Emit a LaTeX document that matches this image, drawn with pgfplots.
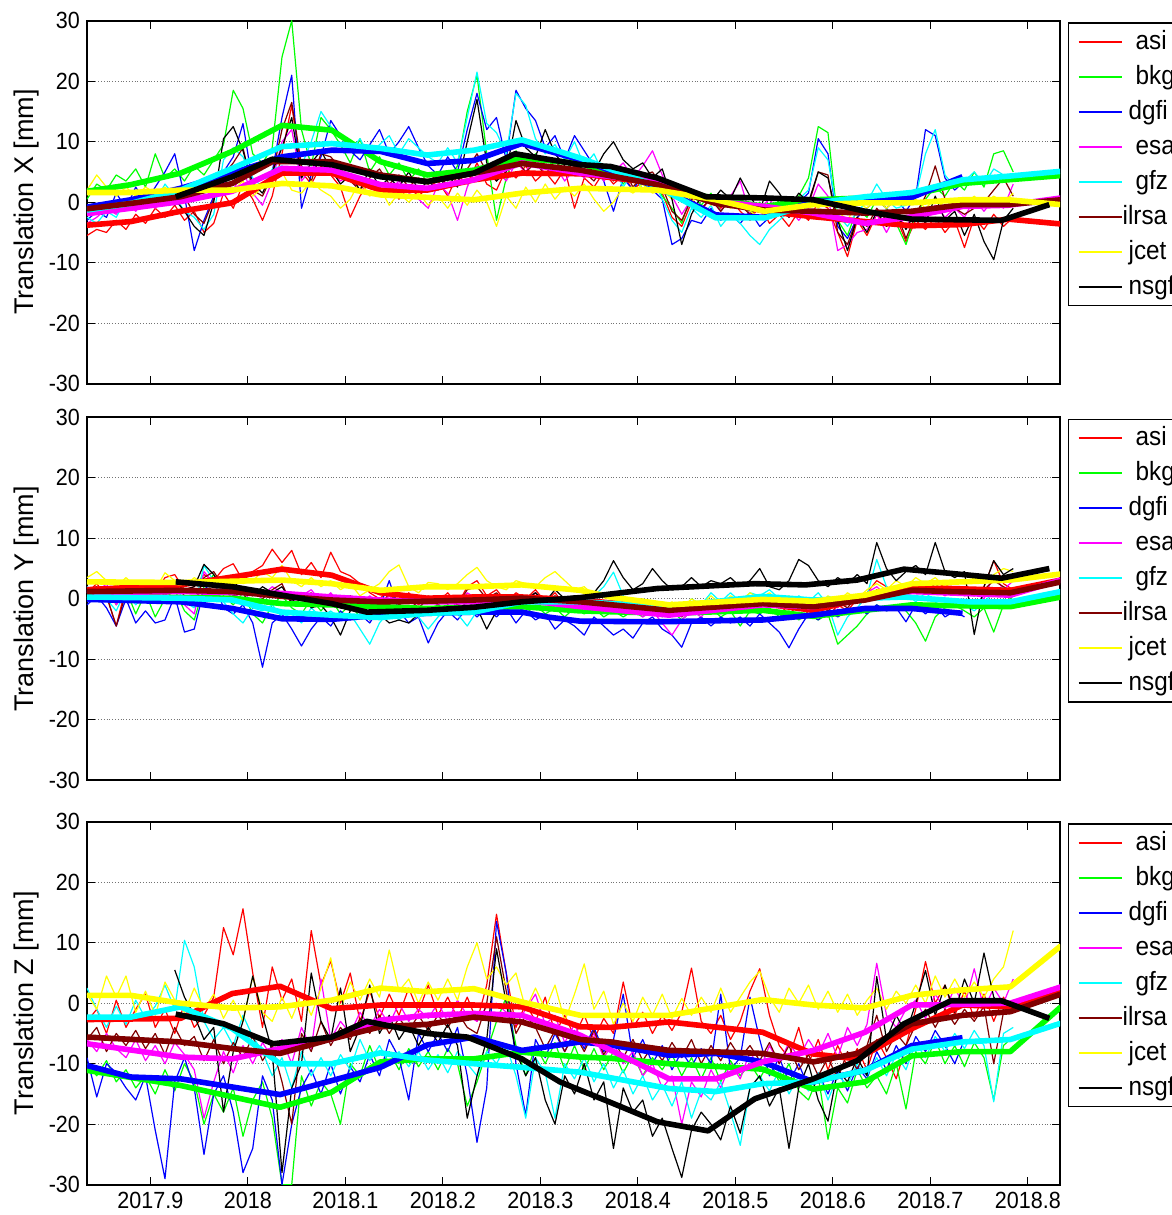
\documentclass[border=0pt]{standalone}
\usepackage{fontspec}
\setmainfont{Liberation Sans}[FakeStretch=0.92]
\newfontfamily\ylfont{Liberation Sans}
\usepackage{pgfplots}
\pgfplotsset{compat=1.18}
\usepackage{pgfplotstable}
\definecolor{mred}{rgb}{1,0,0}
\definecolor{mgrn}{rgb}{0,1,0}
\definecolor{mblu}{rgb}{0,0,1}
\definecolor{mmag}{rgb}{1,0,1}
\definecolor{mcya}{rgb}{0,1,1}
\definecolor{milr}{rgb}{0.5,0,0}
\definecolor{myel}{rgb}{1,1,0}
\definecolor{mblk}{rgb}{0,0,0}

\pgfplotstableread{
x asi bkg dgfi esa gfz ilrsa jcet nsgf
2017.835 -5.5 0.5 -3.0 -3.5 -2.5 -1.5 2.0 nan
2017.845 -4.5 3.0 -1.5 -2.5 -3.5 -2.0 4.5 nan
2017.855 -5.0 2.0 -2.5 -1.0 -1.5 -0.5 2.5 nan
2017.865 -3.0 4.5 1.5 -2.0 -2.5 -1.5 1.0 nan
2017.875 -4.5 3.5 -1.0 0.0 0.5 0.5 2.5 nan
2017.885 -2.0 5.5 2.5 -1.5 -1.0 -1.0 1.0 nan
2017.895 -3.5 2.5 0.0 0.5 1.5 1.5 2.5 nan
2017.905 -1.0 8.0 2.5 -1.0 0.0 -0.5 1.5 nan
2017.915 -2.5 4.0 5.0 1.0 3.0 1.5 2.5 nan
2017.925 -0.5 5.5 8.0 -0.5 1.0 -0.5 1.0 0.5
2017.935 -3.0 3.5 1.0 2.0 -1.5 1.0 2.5 -1.5
2017.945 -1.5 6.0 -8.0 0.5 -2.5 -2.0 1.5 -4.0
2017.955 -5.0 4.5 -3.0 2.5 -4.5 -3.5 3.0 -5.5
2017.965 -3.5 7.0 1.0 1.0 -2.0 0.5 1.5 0.0
2017.975 1.5 9.5 5.0 3.5 7.0 4.5 3.0 10.5
2017.985 -1.0 18.5 7.5 2.0 9.0 6.5 2.0 12.5
2017.995 3.0 15.5 13.0 5.0 7.5 9.0 3.5 8.5
2018.005 0.5 8.0 3.0 1.5 4.0 2.0 1.0 3.0
2018.015 -3.0 6.5 2.5 -0.5 2.5 1.0 2.5 1.5
2018.025 1.0 9.0 5.0 3.5 5.5 4.5 4.0 5.0
2018.035 8.0 24.0 14.0 10.0 6.0 12.0 5.0 9.0
2018.045 16.0 30.0 21.0 12.0 5.0 16.5 2.0 14.0
2018.055 5.0 12.0 -1.0 3.5 6.0 6.0 1.5 4.0
2018.065 3.0 6.0 4.5 5.5 10.0 3.5 3.5 6.5
2018.075 6.0 14.0 7.5 7.0 15.0 8.0 2.0 8.5
2018.085 4.5 12.0 13.5 5.0 12.5 7.5 1.0 5.5
2018.095 2.5 9.5 11.0 3.5 11.0 5.5 -1.0 3.0
2018.105 -2.5 6.5 8.5 4.5 8.5 3.5 0.5 4.5
2018.115 1.0 10.5 7.0 1.5 10.5 2.0 3.5 2.0
2018.125 3.5 5.0 9.5 3.5 7.5 4.0 1.0 5.5
2018.135 1.0 7.5 12.0 1.0 9.5 5.5 2.5 2.5
2018.145 3.0 4.5 8.0 2.0 11.0 3.0 -0.5 4.0
2018.155 0.5 6.5 10.0 3.5 8.0 4.5 1.5 2.5
2018.165 2.5 3.5 12.5 1.5 10.5 2.5 0.0 5.0
2018.175 1.0 5.5 9.0 0.5 9.0 4.0 1.5 2.0
2018.185 2.5 3.0 6.0 -1.0 7.5 3.0 -0.5 3.5
2018.195 3.5 5.0 4.5 3.0 6.5 5.0 1.0 2.0
2018.205 1.0 3.5 7.5 1.5 9.0 2.5 -1.0 4.5
2018.215 4.5 6.0 5.0 -3.0 6.5 3.5 1.5 2.5
2018.225 3.0 15.0 12.0 2.5 14.0 5.5 -0.5 10.0
2018.235 6.5 21.0 18.0 6.0 21.5 8.0 2.0 17.0
2018.245 3.0 8.0 12.0 4.0 13.0 5.0 0.0 6.5
2018.255 2.0 -3.0 14.0 5.5 11.5 3.5 -4.0 3.5
2018.265 5.5 4.0 7.0 3.5 8.0 6.5 1.0 5.0
2018.275 4.0 8.5 18.5 6.5 18.0 7.0 -1.0 13.5
2018.285 6.0 6.0 15.5 5.0 16.0 5.0 2.5 9.0
2018.295 3.5 8.0 13.5 7.5 10.5 6.5 0.0 7.5
2018.305 5.0 5.5 9.0 4.5 8.0 4.5 3.0 12.0
2018.315 3.0 7.0 11.0 6.0 9.5 7.0 0.5 8.0
2018.325 5.5 5.0 7.0 3.5 7.0 4.5 2.5 6.0
2018.335 -1.0 7.5 11.0 5.5 10.0 6.0 1.0 4.5
2018.345 4.0 5.0 8.5 4.0 6.0 5.0 3.0 6.5
2018.355 2.5 6.5 6.0 6.5 8.0 3.5 0.5 5.0
2018.365 5.0 4.0 3.5 3.5 4.5 6.0 -1.5 8.0
2018.375 3.0 5.5 -1.5 5.0 6.0 3.5 0.0 10.0
2018.385 4.5 3.0 4.0 6.5 2.5 5.5 2.5 7.0
2018.395 2.0 5.0 2.0 4.0 5.0 2.5 1.5 5.5
2018.405 3.5 2.0 4.5 6.0 2.0 4.5 3.0 6.5
2018.415 4.0 4.0 2.0 8.5 4.0 5.0 1.5 4.0
2018.425 1.5 1.0 0.5 4.5 0.5 2.5 2.0 5.5
2018.435 -2.5 -1.0 -7.0 1.0 -3.0 -1.5 0.5 0.5
2018.445 -4.0 -3.5 -6.0 -2.0 -5.0 -3.0 1.5 -7.0
2018.455 0.0 1.5 -3.0 0.5 -1.0 0.5 0.0 -2.0
2018.465 -1.5 -0.5 -3.5 -1.0 -2.5 -1.0 1.5 1.0
2018.475 1.0 1.5 -1.0 0.5 -0.5 0.5 -0.5 0.0
2018.485 -1.0 -1.5 -3.0 -1.5 -4.0 -1.5 1.0 2.0
2018.495 0.5 0.5 -2.0 1.0 -2.0 0.5 -1.0 0.5
2018.505 -1.5 1.0 -3.5 3.5 -3.5 -0.5 0.0 4.0
2018.515 -3.0 -2.0 -1.5 -2.0 -5.5 -2.0 -1.5 1.0
2018.525 -0.5 0.0 -4.0 -1.0 -7.0 -1.0 -2.5 -1.5
2018.535 -3.5 -2.5 -2.5 0.5 -4.5 -2.5 -1.0 3.5
2018.545 -2.0 0.5 -1.0 -2.0 -3.0 -0.5 -2.0 1.5
2018.555 -4.0 -1.5 -2.5 -1.0 -1.5 -2.5 0.0 -1.0
2018.565 -1.5 1.0 0.0 -3.0 0.5 -1.0 -1.5 1.5
2018.575 -3.0 4.0 1.5 -1.0 2.0 -0.5 0.5 0.0
2018.585 0.0 12.5 10.5 3.0 9.0 5.0 -1.0 5.0
2018.595 -1.0 11.5 8.0 1.0 7.0 4.5 0.5 4.0
2018.605 -5.0 -3.0 -4.0 -8.0 -2.0 -5.0 -1.5 -3.0
2018.615 -9.0 -5.5 -6.0 -7.0 -4.0 -7.0 -3.0 -8.0
2018.625 -3.0 -1.0 -2.5 -5.0 -1.5 -2.5 0.0 -2.5
2018.635 -5.5 -2.5 -1.0 -4.5 0.0 -4.0 -1.0 -5.0
2018.645 -2.0 0.5 0.5 -2.0 3.0 -1.0 0.5 -1.5
2018.655 -4.0 -1.0 -1.0 -5.0 0.5 -3.0 -1.0 -4.0
2018.665 -2.5 -3.5 0.5 -2.0 -1.0 -1.5 0.5 -2.0
2018.675 -6.5 -7.0 -1.5 -4.0 -0.5 -6.0 -0.5 -4.5
2018.685 -3.0 -2.0 1.0 -1.5 1.0 -2.0 0.5 -1.5
2018.695 -4.5 0.5 12.0 -3.0 8.0 1.0 -1.0 -3.5
2018.705 -2.5 2.5 11.0 -0.5 12.0 6.0 0.5 1.0
2018.715 -5.0 1.0 4.0 -2.5 4.5 0.5 -1.0 -3.0
2018.725 -3.0 3.5 2.0 -1.0 2.5 -1.0 0.5 -1.5
2018.735 -7.5 2.0 3.5 -2.5 3.5 -2.0 -0.5 -5.5
2018.745 -2.5 5.0 nan 0.5 5.0 -1.0 1.0 -2.0
2018.755 -4.5 2.5 nan -1.5 3.0 0.0 -0.5 -6.5
2018.765 -2.0 8.0 nan 0.5 5.5 2.0 1.0 -9.5
2018.775 -4.0 8.5 nan -1.0 4.5 4.0 0.0 -3.0
2018.785 -2.5 5.0 nan 3.0 4.0 1.0 1.5 -1.0
}\topthin

\pgfplotstableread{
x asi bkg dgfi esa gfz ilrsa jcet nsgf
2017.835 1.0 1.5 -1.0 2.0 2.0 1.5 3.5 nan
2017.845 2.5 0.5 0.5 1.0 1.0 2.0 4.5 nan
2017.855 0.5 2.0 -1.5 2.5 0.0 0.5 3.0 nan
2017.865 -4.5 -1.0 -4.5 -1.0 -2.0 -4.5 2.0 nan
2017.875 2.0 1.5 0.0 1.5 1.5 1.0 3.5 nan
2017.885 1.0 -2.5 -4.0 0.5 -1.0 1.5 2.0 nan
2017.895 2.5 1.0 -2.0 2.0 1.0 0.5 3.0 nan
2017.905 1.0 -3.0 -4.0 0.0 -0.5 2.0 1.5 nan
2017.915 3.5 0.0 -3.5 1.5 1.0 0.5 4.3 nan
2017.925 4.0 1.5 0.5 3.0 2.5 2.5 3.0 2.5
2017.935 1.5 -2.0 -5.5 -1.0 -0.5 0.5 2.0 1.5
2017.945 2.0 -3.5 -5.0 -2.5 -1.5 -1.0 3.5 2.0
2017.955 4.0 2.0 1.5 4.5 5.5 3.5 2.5 5.7
2017.965 3.0 4.0 3.0 2.5 3.0 4.5 3.5 4.0
2017.975 5.0 0.5 -1.5 1.5 -0.5 2.0 2.0 1.5
2017.985 5.8 -1.0 -2.5 0.0 -2.5 0.5 3.5 3.0
2017.995 3.0 1.0 -1.0 1.5 -4.0 1.0 2.5 1.0
2018.005 4.5 -2.5 -4.0 -1.0 -1.5 -1.5 3.0 0.5
2018.015 5.5 -4.0 -11.3 0.5 -2.0 0.0 4.5 2.0
2018.025 8.2 -1.0 -4.0 2.0 -1.0 1.5 3.5 1.0
2018.035 6.0 0.5 -2.5 1.0 -3.0 2.5 5.5 2.0
2018.045 8.0 -1.5 -5.0 -0.5 -2.5 -1.0 3.0 -0.5
2018.055 4.0 -2.5 -7.8 0.5 -4.0 0.0 2.0 1.0
2018.065 6.0 0.0 -5.0 1.5 -1.5 1.0 3.5 -1.5
2018.075 3.5 -2.0 -3.0 -0.5 -3.0 -1.0 2.0 -1.0
2018.085 7.7 0.0 -4.5 1.0 -2.0 0.5 3.0 -3.0
2018.095 4.5 -2.5 -2.0 -1.0 -3.5 -1.5 1.5 -6.0
2018.105 3.8 -1.0 -3.5 0.5 -2.5 0.5 2.5 -2.0
2018.115 2.5 -3.0 -2.5 -1.0 -5.0 -1.0 0.5 -1.0
2018.125 1.0 -2.0 -4.0 0.5 -7.5 0.0 1.5 -3.5
2018.135 0.0 -1.0 -1.5 -1.0 -4.0 -1.5 2.5 -2.5
2018.145 1.5 -2.5 3.0 0.5 -2.0 1.0 4.5 -4.0
2018.155 -0.5 -1.0 -2.0 -1.0 -3.5 -1.0 5.6 -3.5
2018.165 1.0 -2.0 -4.0 0.0 -2.0 0.0 2.0 -4.0
2018.175 -1.0 -3.0 -3.0 -1.5 -3.0 -1.5 1.0 -2.5
2018.185 0.5 -2.0 -7.3 0.0 -5.0 0.0 2.7 -1.5
2018.195 -0.5 -1.0 -4.0 -1.0 -3.0 -1.0 2.5 -2.5
2018.205 1.0 -2.0 -2.0 0.5 -1.5 0.5 1.5 -1.0
2018.215 -1.0 -1.0 -3.5 -1.5 -2.5 -1.0 2.5 -2.0
2018.225 2.0 -2.5 -1.5 1.0 -4.5 1.5 4.0 -0.5
2018.235 3.0 -1.0 -3.0 0.0 -2.0 2.0 5.2 -1.5
2018.245 0.5 -2.0 -1.5 -1.0 -1.0 0.0 3.0 -5.0
2018.255 1.5 -0.5 -3.0 0.5 -2.0 1.0 2.0 -2.0
2018.265 -0.5 -2.0 -1.5 -1.0 -0.5 -0.5 1.5 -1.0
2018.275 1.0 -1.0 -4.0 0.5 0.0 0.5 3.0 -0.5
2018.285 0.0 -2.5 -2.0 -0.5 -1.0 -0.5 2.5 0.0
2018.295 1.5 -1.0 -3.5 1.0 0.5 1.0 2.0 1.0
2018.305 -0.5 -2.5 -2.5 -1.0 -1.0 -0.5 3.5 -0.5
2018.315 1.0 -1.5 -5.0 0.0 0.5 0.5 4.5 1.5
2018.325 -1.0 -3.0 -3.5 -1.5 -1.5 -1.0 3.0 0.0
2018.335 0.5 -1.5 -4.5 0.0 0.0 0.0 1.5 0.5
2018.345 -1.5 -2.5 -6.0 -1.5 -1.0 -1.0 2.0 -0.5
2018.355 0.0 -1.5 -3.0 -0.5 0.5 0.0 0.5 1.0
2018.365 -2.0 -3.0 -4.5 -2.0 2.0 -1.5 1.0 3.0
2018.375 -0.5 -2.0 -6.0 -1.0 4.4 -0.5 -0.5 6.3
2018.385 -1.5 -3.0 -5.0 -2.5 0.5 -2.0 0.0 3.5
2018.395 -0.5 -2.0 -6.5 -1.5 -1.0 -1.0 -1.0 1.5
2018.405 -2.0 -3.0 -4.0 -3.0 -2.0 -2.5 0.0 2.5
2018.415 -1.0 -1.5 -3.0 -2.0 -0.5 -1.5 -1.0 5.0
2018.425 -2.5 -3.0 -5.0 -4.0 -2.0 -2.5 -2.0 3.0
2018.435 -1.5 -2.0 -6.0 -6.0 -1.0 -2.0 -0.5 1.5
2018.445 -2.0 -3.5 -8.0 -3.5 -2.0 -3.0 -1.5 2.0
2018.455 -1.0 -2.0 -4.0 -2.0 0.0 -1.5 0.0 3.5
2018.465 -2.0 -2.5 -3.0 -3.0 -1.0 -2.0 -1.0 2.0
2018.475 -0.5 -1.5 -4.5 -1.0 1.0 -1.0 0.5 3.0
2018.485 -1.5 -3.0 -3.0 -2.5 -0.5 -2.0 -1.0 2.5
2018.495 -0.5 -2.0 -4.0 -1.0 1.0 -1.0 0.5 3.5
2018.505 -2.0 -4.5 -3.0 -2.0 -0.5 -1.5 -0.5 2.0
2018.515 0.0 -2.0 -4.5 -0.5 1.0 -0.5 1.0 3.0
2018.525 -1.5 -2.5 -2.5 -1.5 0.5 -1.5 0.0 5.0
2018.535 0.5 -1.5 -4.0 -0.5 1.5 -0.5 1.0 2.0
2018.545 -1.0 -3.0 -5.5 -1.5 0.0 -1.0 -0.5 1.5
2018.555 -2.5 -2.0 -8.1 -1.0 -1.0 -1.5 0.5 3.0
2018.565 -1.0 -3.5 -5.0 -2.0 0.5 -1.0 -1.0 6.5
2018.575 -2.5 -2.5 -2.5 -1.0 -0.5 -2.0 0.0 5.5
2018.585 -1.5 -3.5 -3.5 -2.0 1.0 -1.0 -1.0 3.0
2018.595 -3.0 -2.5 -2.0 -1.0 -1.0 -2.0 0.5 2.0
2018.605 -1.0 -7.5 -3.0 -1.5 -6.0 -0.5 -0.5 3.5
2018.615 -2.0 -6.0 -2.0 0.5 -3.0 -1.5 1.0 2.5
2018.625 0.0 -4.5 -1.5 -0.5 -1.5 0.5 0.0 4.0
2018.635 1.0 -2.5 -2.5 1.0 0.5 0.0 1.5 2.5
2018.645 3.0 -1.0 -1.0 2.0 6.5 1.5 2.5 9.3
2018.655 2.0 -2.0 -2.0 0.5 2.0 1.0 1.5 5.0
2018.665 1.0 -1.0 -1.5 1.5 0.5 2.0 3.0 3.0
2018.675 2.5 -2.0 -3.8 0.5 1.0 1.0 2.0 4.5
2018.685 1.0 -4.0 -1.0 2.0 -0.5 2.0 3.5 5.5
2018.695 2.5 -7.0 -2.5 1.0 1.0 1.0 2.5 4.0
2018.705 1.5 -3.0 -1.0 1.5 -0.5 2.5 3.5 9.3
2018.715 2.5 -1.5 -3.0 0.5 -1.5 1.0 2.0 4.5
2018.725 1.0 -1.0 -2.0 1.5 0.0 2.0 3.0 3.5
2018.735 2.0 -2.0 -3.0 0.5 -1.0 1.0 2.5 4.5
2018.745 0.5 -3.0 nan 1.0 -2.0 0.5 3.5 -5.9
2018.755 2.0 -1.5 nan 0.0 -0.5 1.5 2.5 2.0
2018.765 6.3 -5.5 nan 4.0 1.0 3.0 4.0 6.3
2018.775 2.5 -1.0 nan 1.5 2.0 2.0 5.0 4.0
2018.785 1.5 0.5 nan 3.0 1.0 1.0 4.5 5.0
}\midthin

\pgfplotstableread{
x asi bkg dgfi esa gfz ilrsa jcet nsgf
2017.835 -3.0 -10.0 -9.0 -6.0 2.5 -6.0 1.5 nan
2017.845 -1.0 -12.0 -15.5 -8.0 -1.0 -4.0 -1.0 nan
2017.855 -5.0 -9.5 -10.0 -5.0 -4.0 -8.0 4.5 nan
2017.865 0.5 -13.0 -11.5 -7.5 -0.5 -5.0 1.0 nan
2017.875 -4.0 -11.0 -14.0 -9.0 -3.5 -7.0 4.5 nan
2017.885 -1.0 -14.0 -16.0 -6.0 0.5 -4.5 -1.5 nan
2017.895 1.5 -12.0 -12.0 -9.5 -2.5 -7.5 2.0 nan
2017.905 -4.0 -15.0 -21.0 -7.0 -0.5 -5.0 -2.0 nan
2017.915 -1.0 -11.0 -29.0 -10.0 3.0 -8.5 3.5 nan
2017.925 -5.0 -14.5 -13.0 -6.5 -1.0 -4.0 0.5 5.5
2017.935 0.0 -10.0 -9.0 -8.5 10.4 -7.0 -1.5 1.0
2017.945 -4.0 -13.0 -14.0 -11.0 6.0 -5.5 2.5 -2.0
2017.955 -2.0 -20.0 -25.0 -19.0 -3.0 -9.5 -1.0 -6.0
2017.965 1.0 -15.0 -15.0 -13.0 -6.0 -6.0 1.5 -4.0
2017.975 12.5 -18.0 -12.0 -8.0 -4.0 -10.0 -2.5 -18.0
2017.985 8.0 -14.0 -18.0 -11.5 -7.0 -6.5 0.5 -8.0
2017.995 15.6 -22.0 -28.0 -7.0 -2.0 -9.0 -3.0 -3.0
2018.005 5.0 -16.0 -24.0 -10.0 -5.5 -5.5 4.4 4.5
2018.015 -4.0 -13.0 -12.0 -6.5 -8.0 -9.5 -1.5 -2.0
2018.025 6.0 -19.0 -16.0 -9.0 -12.0 -7.0 -3.0 -8.0
2018.035 0.5 -30.0 -30.0 -6.0 -9.0 -13.0 1.0 -28.0
2018.045 4.0 -30.0 -20.0 -10.0 -14.0 -20.0 -2.5 -14.0
2018.055 -3.0 -12.0 -14.0 -4.0 -8.0 -5.0 1.5 -10.0
2018.065 12.0 -17.0 -11.0 -7.5 -12.0 -8.0 -2.0 5.0
2018.075 3.0 -13.0 -15.0 4.0 -9.0 -3.0 2.5 -3.0
2018.085 7.0 -15.0 -10.0 -6.0 -12.0 -7.0 7.5 -6.0
2018.095 0.0 -20.0 -15.0 -3.0 -8.5 -4.0 -1.0 2.5
2018.105 5.0 -10.0 -10.5 -5.0 -11.0 -6.0 3.5 -8.0
2018.115 -3.0 -12.0 -13.0 -1.5 -6.0 -2.5 0.5 -4.0
2018.125 2.0 -7.0 -8.5 -4.0 -9.5 -5.0 4.0 3.0
2018.135 -2.5 -11.0 -12.0 -1.0 -7.0 -2.0 1.0 -5.0
2018.145 1.5 -8.0 -6.0 -3.5 -10.0 -5.0 8.8 -2.0
2018.155 -2.0 -11.0 -9.0 0.0 -8.0 -2.5 2.0 -6.0
2018.165 2.5 -7.5 -16.0 -3.0 -10.5 -4.5 4.0 -3.5
2018.175 -1.5 -10.5 -5.0 -1.0 -8.0 -2.0 0.0 -7.0
2018.185 3.0 -8.0 -8.0 -2.5 -11.0 -4.5 3.5 -4.0
2018.195 -2.0 -11.0 -5.0 0.0 -8.5 -2.0 0.5 -6.5
2018.205 1.0 -7.5 -8.0 -3.0 -11.5 -4.0 4.0 -3.5
2018.215 -2.5 -10.0 -4.0 0.5 -8.0 -1.5 0.5 -7.0
2018.225 1.0 -17.0 -12.0 -2.0 -10.0 -4.0 6.0 -19.0
2018.235 -3.0 -13.0 -23.0 -3.0 -12.0 -5.0 10.0 -12.0
2018.245 3.0 -8.0 -14.0 -0.5 -8.0 0.0 4.0 -6.0
2018.255 14.7 -3.0 13.5 0.0 -10.0 11.0 6.0 9.0
2018.265 5.0 1.0 5.0 -1.5 -7.0 2.0 3.0 0.0
2018.275 -4.0 -7.0 -10.0 -3.5 -12.0 -5.0 5.0 -8.0
2018.285 0.0 -12.0 -18.5 -1.0 -19.0 -2.0 -1.0 -12.0
2018.295 -3.0 -7.0 -6.0 1.5 -9.0 -4.0 2.5 -9.0
2018.305 1.0 -10.0 -9.0 -3.5 -11.5 -7.5 -1.0 -16.0
2018.315 -5.0 -6.5 -5.0 -2.0 -19.0 -4.5 3.0 -20.0
2018.325 -2.0 -11.0 -8.0 -6.5 -10.0 -8.0 -3.0 -12.0
2018.335 -5.5 -7.0 -4.5 -3.5 -12.5 -5.0 1.5 -15.0
2018.345 -2.0 -11.0 -7.5 -7.0 -9.0 -8.0 6.5 -10.0
2018.355 -6.0 -7.5 -4.0 -5.0 -13.0 -4.5 -1.0 -16.0
2018.365 -2.5 -11.0 -8.0 -9.0 -10.0 -8.5 2.0 -13.0
2018.375 -5.0 -8.0 -6.0 -6.5 -14.0 -6.0 -3.5 -24.0
2018.385 3.5 -11.5 1.5 -10.0 -11.0 -9.0 0.0 -14.0
2018.395 -4.0 -8.5 -9.0 -8.0 -15.0 -6.0 -3.0 -18.0
2018.405 -1.5 -12.0 -6.0 -12.0 -12.0 -9.5 1.0 -16.0
2018.415 -5.0 -9.0 -10.0 -10.0 -16.0 -7.0 -2.0 -22.0
2018.425 -2.0 -11.0 -7.0 -14.0 -13.5 -9.5 1.5 -19.0
2018.435 -4.5 -8.5 -11.0 -12.0 -17.0 -6.5 -2.5 -24.0
2018.445 -1.5 -12.0 -8.0 -20.0 -13.0 -9.0 0.8 -28.8
2018.455 5.8 -9.0 -10.5 -13.0 -19.0 -6.0 -2.0 -21.0
2018.465 -3.0 -12.5 -7.5 -15.5 -14.5 -10.0 1.0 -18.0
2018.475 -5.0 -9.0 -10.0 -11.0 -16.0 -7.0 -1.5 -20.0
2018.485 -2.0 -13.0 1.5 -14.0 -13.0 -9.5 2.5 -22.6
2018.495 -6.0 -9.5 -11.0 -10.0 -18.0 -6.5 -1.5 -17.0
2018.505 -3.0 -12.0 -9.0 -12.5 -23.5 -9.0 1.0 -21.5
2018.515 2.0 -10.0 1.0 -8.0 -14.0 -7.0 3.5 -14.0
2018.525 5.7 -12.5 -6.0 -11.0 -12.0 -9.5 5.3 -12.0
2018.535 -2.0 -9.5 -12.0 -7.0 -14.5 -6.5 1.0 -17.0
2018.545 -7.0 -13.0 -9.0 -10.0 -11.0 -10.0 -1.5 -14.0
2018.555 -9.0 -10.0 -13.0 -6.5 -15.0 -7.0 2.5 -24.0
2018.565 -4.0 -14.5 -10.0 -9.0 -12.0 -11.0 0.0 -14.0
2018.575 -10.0 -16.0 -14.0 -6.0 -14.5 -8.5 3.0 -10.0
2018.585 -6.0 -12.0 -11.5 -8.5 -11.5 -12.0 -1.0 -16.0
2018.595 -11.0 -22.5 -15.0 -5.0 -16.0 -9.0 2.0 -19.5
2018.605 -7.0 -14.0 -11.0 -9.0 -12.0 -12.5 -1.5 -11.0
2018.615 -10.5 -16.5 -14.5 -4.0 -13.5 -8.0 1.5 -13.0
2018.625 -7.5 -11.0 -10.5 -7.0 -10.0 -11.0 -2.0 -9.0
2018.635 -11.0 -14.0 -12.5 -3.5 -12.0 -7.0 0.5 -12.0
2018.645 -6.0 -12.0 -8.0 6.6 -9.0 -2.0 2.5 4.4
2018.655 -9.0 -15.0 -11.0 -2.0 -12.0 -8.0 -1.0 -6.0
2018.665 -12.5 -10.0 -7.0 -4.0 -8.5 -5.0 2.0 -2.0
2018.675 -7.0 -17.5 -10.0 -1.0 -11.0 -7.0 0.0 -5.0
2018.685 -1.0 -8.0 -5.5 0.5 -6.5 -3.5 3.0 0.0
2018.695 6.9 -10.0 -8.0 -2.5 -9.0 -1.0 0.0 5.4
2018.705 0.0 -6.0 -4.5 1.5 -5.5 -4.0 4.5 -2.0
2018.715 3.0 -10.0 -7.0 -1.0 -8.0 -1.0 1.0 3.0
2018.725 -2.0 -7.0 -10.0 2.5 -5.0 -3.5 4.0 -1.5
2018.735 2.0 -10.5 -6.0 -0.5 -7.5 -1.0 1.0 4.0
2018.745 -2.5 -6.5 nan 5.7 -4.5 -3.0 3.5 0.0
2018.755 1.5 -9.0 nan -1.0 -7.0 -0.5 1.0 8.3
2018.765 -3.0 -16.0 nan 2.5 -16.3 -10.0 4.0 1.0
2018.775 1.0 -7.0 nan 0.0 -5.0 -1.5 6.0 -1.0
2018.785 -1.5 -5.5 nan 4.0 -4.0 0.5 12.0 -0.5
}\botthin

\pgfplotsset{
  panel/.style={
    scale only axis, width=486.5pt, height=181.5pt,
    xmin=2017.835, xmax=2018.833, ymin=-30, ymax=30,
    xtick={2017.9,2018,2018.1,2018.2,2018.3,2018.4,2018.5,2018.6,2018.7,2018.8},
    ytick={-30,-20,-10,0,10,20,30},
    yticklabels={-30,-20,-10,0,10,20,30},
    tick align=inside, major tick length=4pt,
    tick style={black, line width=0.6pt},
    axis line style={black, line width=1pt},
    ymajorgrids, major grid style={densely dotted, black!55, line width=0.5pt},
    ticklabel style={font=\fontsize{11.7}{13}\selectfont},
    ylabel style={at={(axis description cs:-0.0622,0.5)}, anchor=center, font=\ylfont\fontsize{13.5}{15}\selectfont},
    unbounded coords=jump,
    legend cell align=left,
    legend style={at={(1.0082,0.996)}, anchor=north west, draw=black, line width=0.7pt,
      inner xsep=4.5pt, inner ysep=0.6pt, row sep=0pt,
      font=\fontsize{13.2}{15}\selectfont,
      nodes={inner sep=0pt, text height=12.6pt, text depth=4.9pt},
      /tikz/every even column/.append style={column sep=2pt}},
    legend image code/.code={\draw[#1] (0pt,0pt) -- (21.5pt,0pt);},
    every axis plot/.append style={line join=round},
  },
  thn/.style={line width=0.6pt, forget plot},
  thk/.style={line width=2.8pt, forget plot},
}
\newcommand\mylegend{%
\addlegendimage{mred, line width=1pt}\addlegendentry{\hspace{6.5pt}asi}
\addlegendimage{mgrn, line width=1pt}\addlegendentry{\hspace{6.5pt}bkg}
\addlegendimage{mblu, line width=1pt}\addlegendentry{\hspace{3pt}dgfi}
\addlegendimage{mmag, line width=1pt}\addlegendentry{\hspace{6.5pt}esa}
\addlegendimage{mcya, line width=1pt}\addlegendentry{\hspace{6.5pt}gfz}
\addlegendimage{milr, line width=1pt}\addlegendentry{ilrsa}
\addlegendimage{myel, line width=1pt}\addlegendentry{\hspace{3pt}jcet}
\addlegendimage{mblk, line width=1pt}\addlegendentry{\hspace{3pt}nsgf}}

\begin{document}
\begin{tikzpicture}
% ---------------- top panel ----------------
\begin{axis}[panel, at={(43.5pt,-10.35pt)}, anchor=north west,
  xticklabels={}, ylabel={Translation X [mm]}]
\addplot[mred, thn] table[x=x,y=asi]{\topthin};
\addplot[mgrn, thn] table[x=x,y=bkg]{\topthin};
\addplot[mblu, thn] table[x=x,y=dgfi]{\topthin};
\addplot[mmag, thn] table[x=x,y=esa]{\topthin};
\addplot[mcya, thn] table[x=x,y=gfz]{\topthin};
\addplot[milr, thn] table[x=x,y=ilrsa]{\topthin};
\addplot[myel, thn] table[x=x,y=jcet]{\topthin};
\addplot[mblk, thn] table[x=x,y=nsgf]{\topthin};
\addplot[mred, thk] coordinates {(2017.835,-3.8)(2017.880,-3.2)(2017.931,-1.5)(2017.984,-0.1)(2018.035,4.8)(2018.086,4.8)(2018.136,2.0)(2018.184,2.0)(2018.232,3.7)(2018.281,4.8)(2018.341,4.7)(2018.42,3.1)(2018.48,0.4)(2018.53,-1.5)(2018.58,-2.4)(2018.633,-3.2)(2018.681,-3.9)(2018.733,-3.7)(2018.78,-2.8)(2018.834,-3.6)};
\addplot[mgrn, thk] coordinates {(2017.835,1.8)(2017.880,2.9)(2017.931,4.8)(2017.984,8.4)(2018.035,12.7)(2018.086,11.9)(2018.136,6.7)(2018.184,4.5)(2018.232,5.3)(2018.281,7.3)(2018.341,6.4)(2018.42,3.0)(2018.48,0.5)(2018.53,-0.7)(2018.58,0.4)(2018.633,0.7)(2018.681,1.2)(2018.733,3.1)(2018.834,4.4)};
\addplot[mblu, thk] coordinates {(2017.835,-0.8)(2017.880,0.4)(2017.931,2.3)(2017.984,4.8)(2018.035,7.5)(2018.086,8.6)(2018.136,8.4)(2018.184,6.4)(2018.232,6.9)(2018.281,9.7)(2018.341,7.0)(2018.42,2.5)(2018.48,-2.1)(2018.53,-2.5)(2018.58,0.1)(2018.681,0.8)(2018.733,4.2)};
\addplot[mmag, thk] coordinates {(2017.835,-1.9)(2017.880,-1.0)(2017.931,0.1)(2017.984,1.8)(2018.035,5.6)(2018.086,5.3)(2018.136,2.9)(2018.184,2.3)(2018.232,3.7)(2018.281,6.5)(2018.341,4.8)(2018.42,3.4)(2018.48,0.1)(2018.53,-0.7)(2018.58,-1.8)(2018.633,-3.5)(2018.681,-2.4)(2018.733,-0.7)(2018.78,-0.5)(2018.834,0.7)};
\addplot[mcya, thk] coordinates {(2017.835,-1.3)(2017.880,-0.2)(2017.931,2.0)(2017.984,5.6)(2018.035,9.2)(2018.086,9.7)(2018.136,8.9)(2018.184,7.8)(2018.232,8.6)(2018.281,10.3)(2018.341,7.3)(2018.42,2.6)(2018.48,-2.6)(2018.53,-2.6)(2018.58,-0.2)(2018.633,0.9)(2018.681,1.6)(2018.733,3.7)(2018.78,4.3)(2018.834,5.1)};
\addplot[milr, thk] coordinates {(2017.835,-1.1)(2017.880,-0.2)(2017.931,0.9)(2017.984,3.1)(2018.025,6.7)(2018.086,6.7)(2018.136,4.5)(2018.184,3.4)(2018.232,4.8)(2018.281,6.4)(2018.341,5.3)(2018.42,2.9)(2018.48,-0.2)(2018.53,-1.3)(2018.58,-1.5)(2018.633,-1.8)(2018.681,-1.5)(2018.733,-0.4)(2018.78,-0.4)(2018.834,0.4)};
\addplot[myel, thk] coordinates {(2017.835,1.6)(2017.880,1.6)(2017.931,2.0)(2017.984,2.0)(2018.035,3.1)(2018.086,2.7)(2018.136,1.2)(2018.184,0.8)(2018.232,0.4)(2018.281,1.5)(2018.341,2.3)(2018.42,2.0)(2018.48,0.4)(2018.53,-1.5)(2018.58,-0.4)(2018.633,-0.1)(2018.681,-0.1)(2018.733,0.4)(2018.78,0.4)(2018.834,-0.4)};
\addplot[mblk, thk] coordinates {(2017.926,0.9)(2017.984,4.2)(2018.025,7.1)(2018.086,6.2)(2018.136,4.2)(2018.184,3.4)(2018.232,4.8)(2018.274,8.0)(2018.341,6.2)(2018.372,5.9)(2018.42,4.0)(2018.47,0.9)(2018.53,0.7)(2018.58,0.4)(2018.633,-1.5)(2018.681,-2.8)(2018.773,-3.0)(2018.822,-0.4)};
\mylegend
\end{axis}
% ---------------- middle panel ----------------
\begin{axis}[panel, at={(43.5pt,-208.65pt)}, anchor=north west,
  xticklabels={}, ylabel={Translation Y [mm]}]
\addplot[mred, thn] table[x=x,y=asi]{\midthin};
\addplot[mgrn, thn] table[x=x,y=bkg]{\midthin};
\addplot[mblu, thn] table[x=x,y=dgfi]{\midthin};
\addplot[mmag, thn] table[x=x,y=esa]{\midthin};
\addplot[mcya, thn] table[x=x,y=gfz]{\midthin};
\addplot[milr, thn] table[x=x,y=ilrsa]{\midthin};
\addplot[myel, thn] table[x=x,y=jcet]{\midthin};
\addplot[mblk, thn] table[x=x,y=nsgf]{\midthin};
\addplot[mred, thk] coordinates {(2017.835,1.5)(2017.931,2.3)(2017.984,3.6)(2018.035,4.9)(2018.086,3.9)(2018.136,1.0)(2018.184,0.1)(2018.232,0.3)(2018.281,0.3)(2018.341,-0.2)(2018.432,-1.6)(2018.528,-0.8)(2018.58,-1.9)(2018.633,0.1)(2018.681,1.7)(2018.721,1.7)(2018.782,1.4)(2018.834,3.1)};
\addplot[mgrn, thk] coordinates {(2017.835,0.6)(2017.931,0.2)(2017.984,0.1)(2018.035,-0.8)(2018.086,-1.0)(2018.136,-1.3)(2018.184,-1.6)(2018.232,-1.4)(2018.281,-1.3)(2018.341,-2.0)(2018.432,-2.4)(2018.528,-1.9)(2018.58,-2.9)(2018.633,-1.9)(2018.681,-1.0)(2018.782,-1.3)(2018.834,0.3)};
\addplot[mblu, thk] coordinates {(2017.835,-0.1)(2017.931,-0.5)(2017.984,-1.6)(2018.035,-3.3)(2018.086,-3.4)(2018.136,-2.7)(2018.184,-2.4)(2018.232,-2.2)(2018.281,-2.2)(2018.307,-3.0)(2018.341,-3.7)(2018.42,-3.8)(2018.528,-3.5)(2018.58,-2.7)(2018.633,-1.6)(2018.681,-1.6)(2018.733,-2.4)};
\addplot[mmag, thk] coordinates {(2017.835,1.0)(2017.931,1.2)(2018.035,0.9)(2018.086,0.3)(2018.136,-0.2)(2018.184,-0.5)(2018.232,-0.5)(2018.281,-0.2)(2018.341,-1.3)(2018.432,-2.7)(2018.528,-1.0)(2018.58,-1.3)(2018.681,1.2)(2018.782,0.6)(2018.834,3.1)};
\addplot[mcya, thk] coordinates {(2017.835,0.3)(2017.931,0.1)(2017.984,-0.2)(2018.035,-2.2)(2018.086,-2.7)(2018.136,-3.1)(2018.184,-2.4)(2018.232,-2.2)(2018.281,-0.5)(2018.341,-0.5)(2018.432,-1.3)(2018.528,0.4)(2018.58,-0.2)(2018.673,0.3)(2018.74,-0.5)(2018.782,-0.5)(2018.834,1.2)};
\addplot[milr, thk] coordinates {(2017.835,1.2)(2017.931,1.4)(2017.984,1.2)(2018.035,0.4)(2018.086,-0.2)(2018.136,-0.5)(2018.184,-0.4)(2018.232,-0.2)(2018.281,0.1)(2018.341,-0.5)(2018.432,-1.9)(2018.528,-0.8)(2018.58,-1.3)(2018.633,-0.2)(2018.681,1.4)(2018.721,1.2)(2018.782,1.0)(2018.834,2.8)};
\addplot[myel, thk] coordinates {(2017.835,2.8)(2017.931,2.7)(2018.035,3.1)(2018.086,2.5)(2018.136,1.4)(2018.184,2.0)(2018.232,2.0)(2018.281,2.3)(2018.341,1.4)(2018.372,0.3)(2018.432,-1.0)(2018.528,-0.1)(2018.58,-0.4)(2018.633,0.6)(2018.681,2.5)(2018.782,3.1)(2018.834,4.1)};
\addplot[mblk, thk] coordinates {(2017.926,2.8)(2017.984,2.0)(2018.035,0.6)(2018.086,-0.8)(2018.122,-2.2)(2018.184,-1.9)(2018.232,-1.4)(2018.281,-0.5)(2018.341,0.2)(2018.42,1.7)(2018.52,2.5)(2018.572,2.3)(2018.625,3.1)(2018.673,4.9)(2018.721,4.2)(2018.773,3.4)(2018.822,5.0)};
\mylegend
\end{axis}
% ---------------- bottom panel ----------------
\begin{axis}[panel, at={(43.5pt,-410.85pt)}, anchor=north west,
  xticklabels={2017.9,2018,2018.1,2018.2,2018.3,2018.4,2018.5,2018.6,2018.7,2018.8},
  ylabel={Translation Z [mm]}]
\addplot[mred, thn] table[x=x,y=asi]{\botthin};
\addplot[mgrn, thn] table[x=x,y=bkg]{\botthin};
\addplot[mblu, thn] table[x=x,y=dgfi]{\botthin};
\addplot[mmag, thn] table[x=x,y=esa]{\botthin};
\addplot[mcya, thn] table[x=x,y=gfz]{\botthin};
\addplot[milr, thn] table[x=x,y=ilrsa]{\botthin};
\addplot[myel, thn] table[x=x,y=jcet]{\botthin};
\addplot[mblk, thn] table[x=x,y=nsgf]{\botthin};
\addplot[mred, thk] coordinates {(2017.835,-2.7)(2017.931,-2.5)(2017.984,1.6)(2018.033,2.8)(2018.086,-0.9)(2018.136,-0.3)(2018.184,-0.3)(2018.232,-0.3)(2018.281,-0.6)(2018.341,-3.9)(2018.372,-4.0)(2018.432,-3.1)(2018.528,-4.8)(2018.58,-8.4)(2018.625,-9.2)(2018.681,-4.2)(2018.733,-0.3)(2018.782,-0.6)(2018.834,1.9)};
\addplot[mgrn, thk] coordinates {(2017.835,-11.1)(2017.931,-13.6)(2018.033,-17.2)(2018.086,-14.7)(2018.136,-9.7)(2018.184,-9.2)(2018.232,-9.2)(2018.281,-8.1)(2018.341,-8.9)(2018.372,-9.1)(2018.432,-10.0)(2018.528,-10.9)(2018.58,-14.2)(2018.633,-13.0)(2018.681,-8.7)(2018.733,-8.0)(2018.782,-8.0)(2018.834,-0.6)};
\addplot[mblu, thk] coordinates {(2017.835,-10.3)(2017.880,-12.2)(2017.931,-12.5)(2018.033,-15.1)(2018.086,-12.8)(2018.136,-10.6)(2018.184,-6.9)(2018.232,-5.6)(2018.281,-7.8)(2018.341,-6.4)(2018.372,-6.9)(2018.432,-8.6)(2018.48,-8.3)(2018.528,-9.7)(2018.58,-13.0)(2018.633,-11.1)(2018.681,-7.0)(2018.733,-5.7)};
\addplot[mmag, thk] coordinates {(2017.835,-6.7)(2017.931,-8.9)(2017.984,-9.2)(2018.033,-7.5)(2018.086,-5.9)(2018.136,-2.8)(2018.184,-2.0)(2018.232,-1.7)(2018.281,-2.0)(2018.341,-5.3)(2018.432,-12.5)(2018.48,-12.5)(2018.528,-9.7)(2018.58,-7.8)(2018.633,-4.8)(2018.681,-0.3)(2018.733,-0.2)(2018.782,0.0)(2018.834,2.7)};
\addplot[mcya, thk] coordinates {(2017.835,-2.3)(2017.880,-2.3)(2017.931,-0.6)(2017.984,-4.2)(2018.033,-10.0)(2018.086,-10.0)(2018.136,-8.2)(2018.184,-9.4)(2018.232,-10.0)(2018.281,-10.6)(2018.341,-11.4)(2018.432,-14.1)(2018.48,-14.6)(2018.528,-13.3)(2018.58,-13.0)(2018.633,-11.1)(2018.681,-7.6)(2018.733,-6.4)(2018.782,-6.0)(2018.834,-3.3)};
\addplot[milr, thk] coordinates {(2017.835,-5.6)(2017.931,-6.4)(2017.984,-7.5)(2018.033,-8.3)(2018.086,-5.9)(2018.136,-3.9)(2018.184,-3.5)(2018.232,-2.3)(2018.281,-3.1)(2018.341,-6.0)(2018.372,-6.4)(2018.432,-7.8)(2018.528,-8.3)(2018.58,-9.7)(2018.625,-8.3)(2018.681,-3.4)(2018.733,-2.0)(2018.782,-1.4)(2018.834,1.5)};
\addplot[myel, thk] coordinates {(2017.835,1.3)(2017.880,1.3)(2017.931,0.0)(2017.984,-0.8)(2018.033,-0.6)(2018.086,0.5)(2018.136,2.5)(2018.184,1.9)(2018.232,2.4)(2018.281,0.2)(2018.341,-2.0)(2018.432,-2.0)(2018.528,0.6)(2018.58,-0.3)(2018.633,-0.8)(2018.681,1.3)(2018.733,2.2)(2018.782,2.7)(2018.834,9.5)};
\addplot[mblk, thk] coordinates {(2017.926,-1.8)(2017.975,-3.4)(2018.026,-6.7)(2018.086,-5.6)(2018.122,-3.0)(2018.184,-5.0)(2018.225,-5.6)(2018.281,-9.2)(2018.32,-13.0)(2018.372,-16.4)(2018.42,-19.6)(2018.472,-21.1)(2018.52,-15.8)(2018.58,-12.5)(2018.625,-9.5)(2018.673,-3.4)(2018.721,0.4)(2018.773,0.4)(2018.822,-2.5)};
\mylegend
\end{axis}
\pgfresetboundingbox
\useasboundingbox (0pt,0pt) rectangle (586pt,-607.5pt);
\end{tikzpicture}
\end{document}
